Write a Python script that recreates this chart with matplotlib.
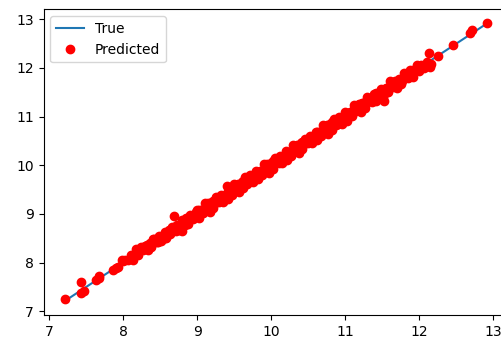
import matplotlib
matplotlib.use("Agg")
import matplotlib.pyplot as plt

# true target values (x) and model predictions (y)
true_vals = [
    7.21, 7.43, 7.43, 7.47, 7.64, 7.67, 7.68, 7.87, 7.90, 7.93, 7.98, 8.00, 8.03, 8.07,
    8.10, 8.13, 8.17, 8.20, 8.24, 8.27, 8.30, 8.33, 8.36, 8.38, 8.41, 8.44, 8.46, 8.49,
    8.51, 8.53, 8.56, 8.58, 8.61, 8.63, 8.66, 8.69, 8.71, 8.73, 8.76, 8.79, 8.80, 8.83,
    8.85, 8.88, 8.90, 8.93, 8.95, 8.98,
    9.00, 9.03, 9.05, 9.08, 9.10, 9.12, 9.15, 9.17, 9.20, 9.22, 9.25, 9.27, 9.30, 9.32,
    9.35, 9.37, 9.40, 9.42, 9.45, 9.47, 9.50, 9.52, 9.55, 9.57, 9.60, 9.62, 9.65, 9.67,
    9.70, 9.72, 9.75, 9.77, 9.80, 9.82, 9.85, 9.87, 9.90, 9.92, 9.95, 9.97,
    10.00, 10.02, 10.05, 10.07, 10.10, 10.12, 10.15, 10.17, 10.20, 10.22, 10.25, 10.27,
    10.30, 10.32, 10.35, 10.37, 10.40, 10.42, 10.45, 10.47, 10.50, 10.52, 10.55, 10.57,
    10.60, 10.62, 10.65, 10.67, 10.70, 10.72, 10.75, 10.77, 10.80, 10.82, 10.85, 10.87,
    10.90, 10.92, 10.95, 10.97,
    11.00, 11.03, 11.06, 11.09, 11.12, 11.15, 11.18, 11.21, 11.24, 11.27, 11.30, 11.33,
    11.36, 11.39, 11.42, 11.45, 11.48, 11.51, 11.53, 11.55, 11.58, 11.61, 11.64, 11.67,
    11.70, 11.73, 11.76, 11.79, 11.82, 11.85, 11.88, 11.91, 11.94, 11.97, 12.00, 12.03,
    12.06, 12.10, 12.13, 12.15, 12.16, 12.25, 12.45, 12.68, 12.71, 12.92,
]
pred_vals = [
    7.25, 7.61, 7.37, 7.42, 7.65, 7.73, 7.69, 7.84, 7.88, 7.91, 8.06, 8.03, 8.05, 8.06,
    8.16, 8.05, 8.29, 8.15, 8.32, 8.25, 8.35, 8.25, 8.40, 8.32, 8.48, 8.44, 8.42, 8.55,
    8.44, 8.54, 8.62, 8.51, 8.63, 8.58, 8.74, 8.95, 8.66, 8.78, 8.68, 8.65, 8.88, 8.78,
    8.92, 8.80, 8.97, 8.93, 8.90, 9.04,
    9.09, 8.92, 9.08, 9.01, 9.22, 9.09, 9.22, 9.05, 9.25, 9.13, 9.35, 9.27, 9.25, 9.40,
    9.25, 9.39, 9.58, 9.31, 9.48, 9.40, 9.62, 9.49, 9.62, 9.45, 9.65, 9.53, 9.75, 9.67,
    9.65, 9.80, 9.65, 9.79, 9.89, 9.71, 9.88, 9.80, 10.02, 9.89, 10.02, 9.85,
    10.05, 9.93, 10.15, 10.07, 10.05, 10.20, 10.05, 10.19, 10.29, 10.11, 10.28, 10.20,
    10.42, 10.29, 10.42, 10.25, 10.45, 10.33, 10.55, 10.47, 10.45, 10.60, 10.45, 10.59,
    10.69, 10.51, 10.68, 10.60, 10.82, 10.69, 10.82, 10.65, 10.85, 10.73, 10.95, 10.87,
    10.85, 11.00, 10.85, 10.99,
    11.09, 10.92, 11.09, 11.02, 11.24, 11.12, 11.25, 11.09, 11.29, 11.18, 11.40, 11.33,
    11.31, 11.47, 11.32, 11.47, 11.57, 11.40, 11.32, 11.58, 11.51, 11.73, 11.61, 11.74,
    11.58, 11.78, 11.67, 11.89, 11.82, 11.80, 11.96, 11.81, 11.96, 12.06, 11.93, 12.06,
    12.00, 12.12, 12.30, 12.03, 12.09, 12.25, 12.48, 12.72, 12.77, 12.92,
]

# more samples in the dense middle of the band
extra_true = [
    8.32, 8.37, 8.42, 8.47, 8.52, 8.57, 8.62, 8.67, 8.72, 8.77, 8.82, 8.87, 8.92, 8.97,
    9.02, 9.07, 9.12, 9.17, 9.22, 9.27, 9.32, 9.37, 9.42, 9.47, 9.52, 9.57, 9.62, 9.67,
    9.72, 9.77, 9.82, 9.87, 9.92, 9.97, 10.02, 10.07, 10.12, 10.17, 10.22, 10.27, 10.32,
    10.37, 10.42, 10.47, 10.52, 10.57, 10.62, 10.67, 10.72, 10.77, 10.82, 10.87, 10.92,
    10.97, 11.02, 11.07, 11.12, 11.17, 11.22, 11.27, 11.32, 11.37, 11.42, 11.47, 11.52,
    11.57, 11.62, 11.67, 11.72, 11.77, 11.82, 11.87, 11.92,
]
extra_pred = [
    8.36, 8.34, 8.48, 8.42, 8.53, 8.51, 8.67, 8.65, 8.75, 8.73, 8.88, 8.86, 8.96, 8.94,
    9.08, 9.02, 9.13, 9.11, 9.27, 9.25, 9.35, 9.33, 9.48, 9.46, 9.56, 9.54, 9.68, 9.62,
    9.73, 9.71, 9.87, 9.85, 9.95, 9.93, 10.08, 10.06, 10.16, 10.14, 10.28, 10.22, 10.33,
    10.31, 10.47, 10.45, 10.55, 10.53, 10.68, 10.66, 10.76, 10.74, 10.88, 10.82, 10.93,
    10.91, 11.07, 11.05, 11.15, 11.13, 11.28, 11.26, 11.36, 11.34, 11.48, 11.42, 11.53,
    11.51, 11.67, 11.65, 11.75, 11.73, 11.88, 11.86, 11.96,
]

all_true = true_vals + extra_true
all_pred = pred_vals + extra_pred

fig = plt.figure(figsize=(5.02, 3.38), dpi=100)
ax = fig.add_axes([43.5 / 502, 23 / 338, 465 / 502, 305.7 / 338])

ax.plot(sorted(all_true), sorted(all_true), label="True")
ax.plot(all_true, all_pred, "ro", label="Predicted")
ax.legend(loc="upper left")

fig.savefig("out.png", dpi=100)
